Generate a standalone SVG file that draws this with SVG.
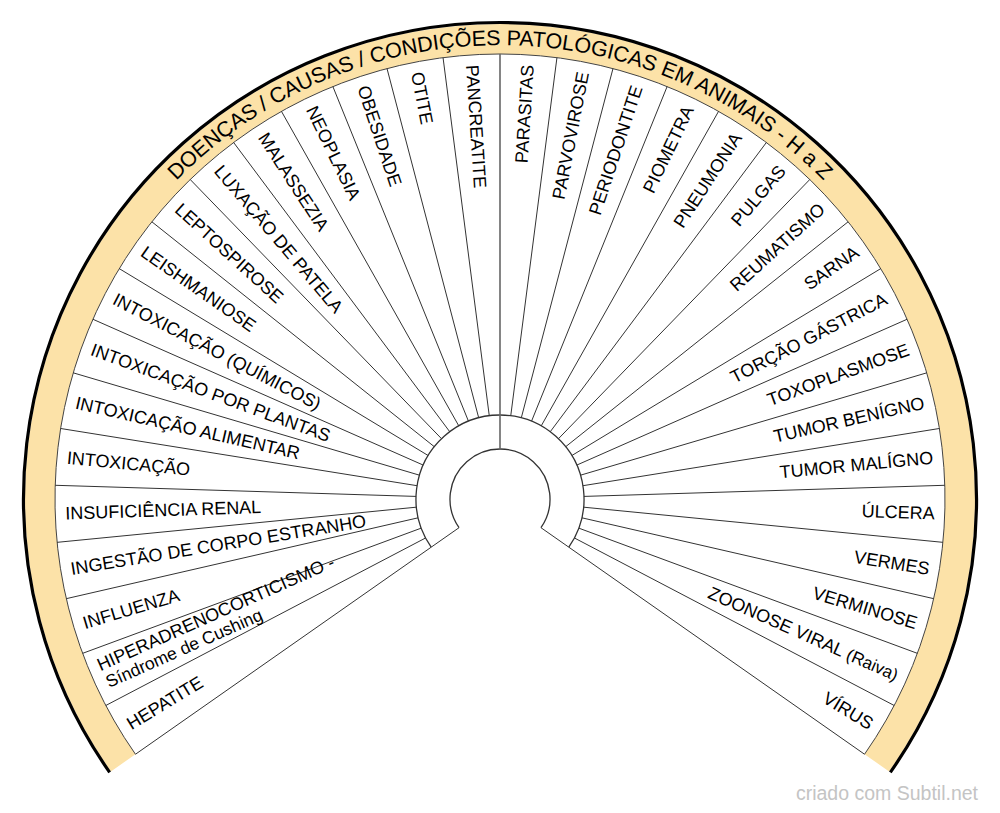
<svg xmlns="http://www.w3.org/2000/svg" width="1000" height="813" viewBox="0 0 1000 813">
<style>
.lbl{font-family:"Liberation Sans",Arial,sans-serif;font-size:18px;fill:#000}
.l{text-anchor:start}
.r{text-anchor:end}
.sp{stroke:#333;stroke-width:1;fill:none}
.ring{stroke:#333;stroke-width:1.3;fill:none}
.ttl{font-family:"Liberation Sans",Arial,sans-serif;font-size:21.5px;fill:#000}
</style>
<defs>
<path id="titlePath" d="M 46 499 A 454 454 0 0 1 954 499"/>
</defs>
<rect width="1000" height="813" fill="#fff"/>
<g id="band">
<path d="M 110.9 771.45 A 475 475 0 1 1 889.1 771.45 L 864.52 754.24 A 445 445 0 1 0 135.48 754.24 Z" fill="#fce2a8"/>
<path d="M 109.67 772.31 A 476.5 476.5 0 1 1 890.33 772.31" fill="none" stroke="#000" stroke-width="3.2"/>
<path d="M 135.48 754.24 A 445 445 0 1 1 864.52 754.24" fill="none" stroke="#444" stroke-width="1"/>
</g>
<g id="title">
<text class="ttl"><textPath href="#titlePath" startOffset="50%" text-anchor="middle">DOENÇAS / CAUSAS / CONDIÇÕES PATOLÓGICAS EM ANIMAIS - H a Z</textPath></text>
</g>
<g id="hub">
<path class="ring" d="M 459.04 527.68 A 50 50 0 1 1 540.96 527.68"/>
<path class="ring" d="M 431.19 547.18 A 84 84 0 1 1 568.81 547.18"/>
</g>
<g id="connectors">
<line x1="500" y1="449" x2="500" y2="54" stroke="#666" stroke-width="1.6"/>
<line class="sp" x1="459.04" y1="527.68" x2="135.48" y2="754.24"/>
<line class="sp" x1="540.96" y1="527.68" x2="864.52" y2="754.24"/>
<line class="sp" x1="489.25" y1="415.69" x2="443.05" y2="57.66"/>
<line class="sp" x1="510.75" y1="415.69" x2="556.95" y2="57.66"/>
<line class="sp" x1="478.68" y1="417.75" x2="387.03" y2="68.58"/>
<line class="sp" x1="521.32" y1="417.75" x2="612.97" y2="68.58"/>
<line class="sp" x1="468.45" y1="421.15" x2="332.88" y2="86.57"/>
<line class="sp" x1="531.55" y1="421.15" x2="667.12" y2="86.57"/>
<line class="sp" x1="458.75" y1="425.83" x2="281.46" y2="111.36"/>
<line class="sp" x1="541.25" y1="425.83" x2="718.54" y2="111.36"/>
<line class="sp" x1="449.72" y1="431.71" x2="233.65" y2="142.51"/>
<line class="sp" x1="550.28" y1="431.71" x2="766.35" y2="142.51"/>
<line class="sp" x1="441.52" y1="438.70" x2="190.22" y2="179.53"/>
<line class="sp" x1="558.48" y1="438.70" x2="809.78" y2="179.53"/>
<line class="sp" x1="434.29" y1="446.68" x2="151.88" y2="221.80"/>
<line class="sp" x1="565.71" y1="446.68" x2="848.12" y2="221.80"/>
<line class="sp" x1="428.13" y1="455.52" x2="119.27" y2="268.63"/>
<line class="sp" x1="571.87" y1="455.52" x2="880.73" y2="268.63"/>
<line class="sp" x1="423.16" y1="465.07" x2="92.92" y2="319.26"/>
<line class="sp" x1="576.84" y1="465.07" x2="907.08" y2="319.26"/>
<line class="sp" x1="419.45" y1="475.18" x2="73.26" y2="372.83"/>
<line class="sp" x1="580.55" y1="475.18" x2="926.74" y2="372.83"/>
<line class="sp" x1="417.06" y1="485.69" x2="60.63" y2="428.49"/>
<line class="sp" x1="582.94" y1="485.69" x2="939.37" y2="428.49"/>
<line class="sp" x1="416.04" y1="496.41" x2="55.21" y2="485.29"/>
<line class="sp" x1="583.96" y1="496.41" x2="944.79" y2="485.29"/>
<line class="sp" x1="416.40" y1="507.18" x2="57.11" y2="542.33"/>
<line class="sp" x1="583.60" y1="507.18" x2="942.89" y2="542.33"/>
<line class="sp" x1="418.13" y1="517.81" x2="66.30" y2="598.66"/>
<line class="sp" x1="581.87" y1="517.81" x2="933.70" y2="598.66"/>
<line class="sp" x1="421.21" y1="528.14" x2="82.63" y2="653.34"/>
<line class="sp" x1="578.79" y1="528.14" x2="917.37" y2="653.34"/>
<line class="sp" x1="425.59" y1="537.98" x2="105.81" y2="705.49"/>
<line class="sp" x1="574.41" y1="537.98" x2="894.19" y2="705.49"/>
</g>
<g id="node-pancreatite"><text class="lbl l" x="65" y="505" transform="rotate(86.324 500 499)">PANCREATITE</text></g>
<g id="node-otite"><text class="lbl l" x="65" y="505" transform="rotate(78.971 500 499)">OTITE</text></g>
<g id="node-obesidade"><text class="lbl l" x="65" y="505" transform="rotate(71.618 500 499)">OBESIDADE</text></g>
<g id="node-neoplasia"><text class="lbl l" x="65" y="505" transform="rotate(64.265 500 499)">NEOPLASIA</text></g>
<g id="node-malassezia"><text class="lbl l" x="65" y="505" transform="rotate(56.912 500 499)">MALASSEZIA</text></g>
<g id="node-luxacao"><text class="lbl l" x="65" y="505" transform="rotate(49.559 500 499)">LUXAÇÃO DE PATELA</text></g>
<g id="node-leptospirose"><text class="lbl l" x="65" y="505" transform="rotate(42.206 500 499)">LEPTOSPIROSE</text></g>
<g id="node-leishmaniose"><text class="lbl l" x="65" y="505" transform="rotate(34.853 500 499)">LEISHMANIOSE</text></g>
<g id="node-intox-quimicos"><text class="lbl l" x="65" y="505" transform="rotate(27.5 500 499)">INTOXICAÇÃO (QUÍMICOS)</text></g>
<g id="node-intox-plantas"><text class="lbl l" x="65" y="505" transform="rotate(20.147 500 499)">INTOXICAÇÃO POR PLANTAS</text></g>
<g id="node-intox-alimentar"><text class="lbl l" x="65" y="505" transform="rotate(12.794 500 499)">INTOXICAÇÃO ALIMENTAR</text></g>
<g id="node-intoxicacao"><text class="lbl l" x="65" y="505" transform="rotate(5.441 500 499)">INTOXICAÇÃO</text></g>
<g id="node-insuficiencia"><text class="lbl l" x="65" y="505" transform="rotate(-1.912 500 499)">INSUFICIÊNCIA RENAL</text></g>
<g id="node-ingestao"><text class="lbl l" x="65" y="505" transform="rotate(-9.265 500 499)">INGESTÃO DE CORPO ESTRANHO</text></g>
<g id="node-influenza"><text class="lbl l" x="65" y="505" transform="rotate(-16.618 500 499)">INFLUENZA</text></g>
<g id="node-hiperadreno"><text class="lbl l" transform="rotate(-23.971 500 499)"><tspan x="65" y="494">HIPERADRENOCORTICISMO -</tspan><tspan x="66" y="513" style="font-size:17.5px">Síndrome de Cushing</tspan></text></g>
<g id="node-hepatite"><text class="lbl l" x="65" y="505" transform="rotate(-31.324 500 499)">HEPATITE</text></g>
<g id="node-parasitas"><text class="lbl r" x="935" y="505" transform="rotate(-86.324 500 499)">PARASITAS</text></g>
<g id="node-parvovirose"><text class="lbl r" x="935" y="505" transform="rotate(-78.971 500 499)">PARVOVIROSE</text></g>
<g id="node-periodontite"><text class="lbl r" x="935" y="505" transform="rotate(-71.618 500 499)">PERIODONTITE</text></g>
<g id="node-piometra"><text class="lbl r" x="935" y="505" transform="rotate(-64.265 500 499)">PIOMETRA</text></g>
<g id="node-pneumonia"><text class="lbl r" x="935" y="505" transform="rotate(-56.912 500 499)">PNEUMONIA</text></g>
<g id="node-pulgas"><text class="lbl r" x="935" y="505" transform="rotate(-49.559 500 499)">PULGAS</text></g>
<g id="node-reumatismo"><text class="lbl r" x="935" y="505" transform="rotate(-42.206 500 499)">REUMATISMO</text></g>
<g id="node-sarna"><text class="lbl r" x="935" y="505" transform="rotate(-34.853 500 499)">SARNA</text></g>
<g id="node-torcao"><text class="lbl r" x="935" y="505" transform="rotate(-27.5 500 499)">TORÇÃO GÁSTRICA</text></g>
<g id="node-toxoplasmose"><text class="lbl r" x="935" y="505" transform="rotate(-20.147 500 499)">TOXOPLASMOSE</text></g>
<g id="node-tumor-benigno"><text class="lbl r" x="935" y="505" transform="rotate(-12.794 500 499)">TUMOR BENÍGNO</text></g>
<g id="node-tumor-maligno"><text class="lbl r" x="935" y="505" transform="rotate(-5.441 500 499)">TUMOR MALÍGNO</text></g>
<g id="node-ulcera"><text class="lbl r" x="935" y="505" transform="rotate(1.912 500 499)">ÚLCERA</text></g>
<g id="node-vermes"><text class="lbl r" x="935" y="505" transform="rotate(9.265 500 499)">VERMES</text></g>
<g id="node-verminose"><text class="lbl r" x="935" y="505" transform="rotate(16.618 500 499)">VERMINOSE</text></g>
<g id="node-zoonose"><text class="lbl r" x="935" y="505" transform="rotate(23.971 500 499)">ZOONOSE VIRAL <tspan style="font-size:17px">(Raiva)</tspan></text></g>
<g id="node-virus"><text class="lbl r" x="935" y="505" transform="rotate(31.324 500 499)">VÍRUS</text></g>
<text x="978" y="800" text-anchor="end" style="font-family:'Liberation Sans',Arial,sans-serif;font-size:19.5px;fill:#c4c4c4">criado com Subtil.net</text>
</svg>
